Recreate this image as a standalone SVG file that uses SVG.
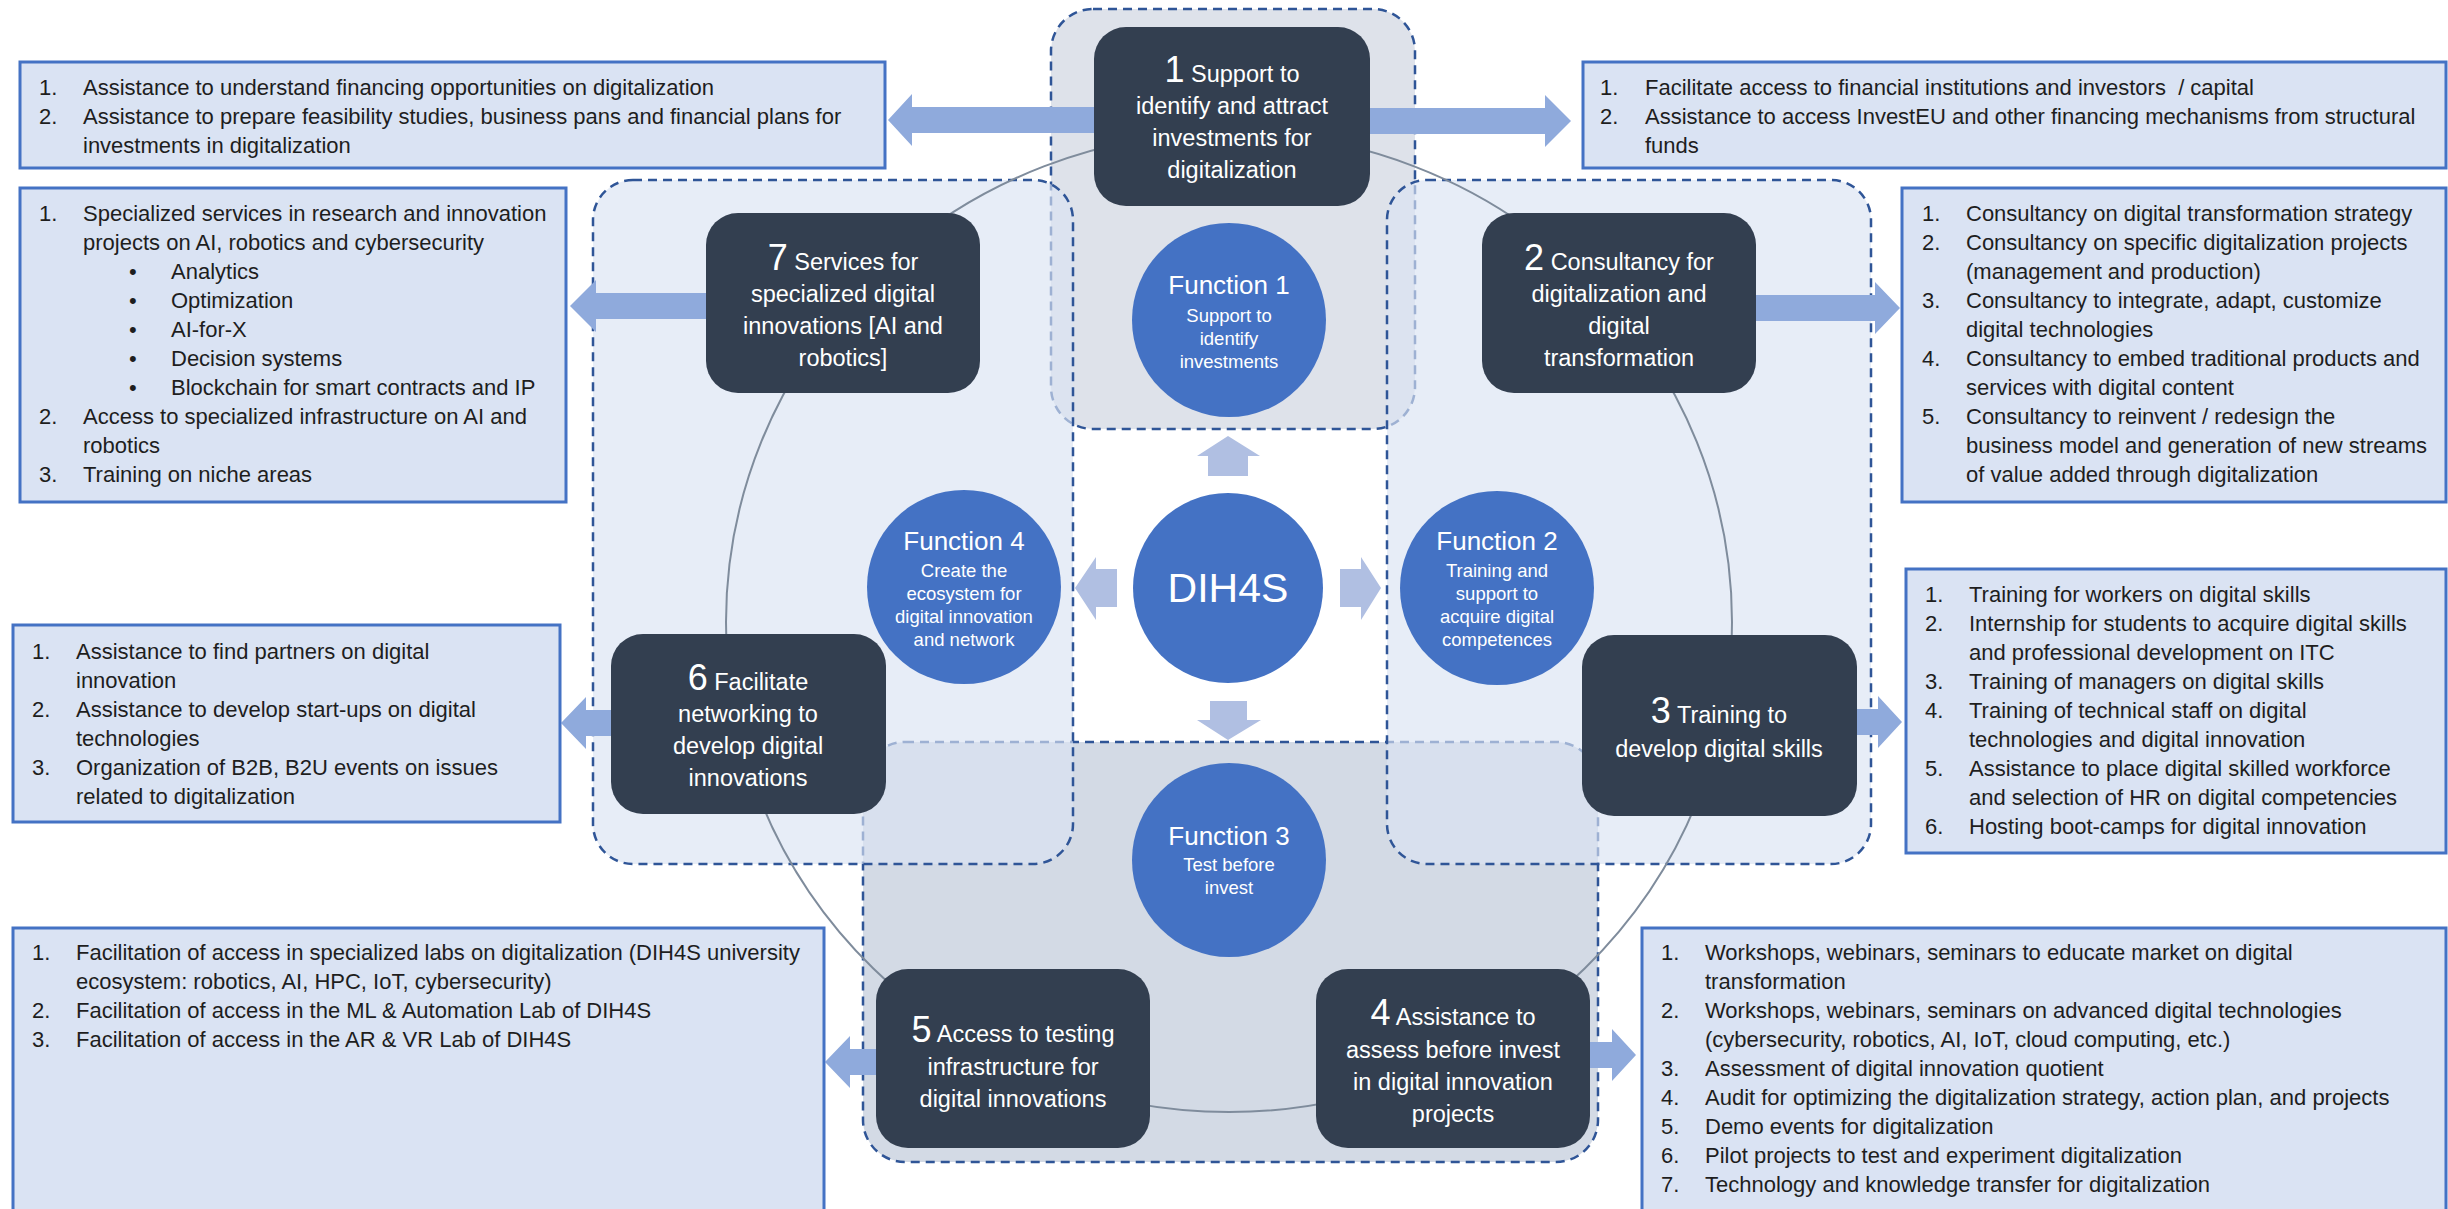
<svg xmlns="http://www.w3.org/2000/svg" width="2448" height="1209" viewBox="0 0 2448 1209">
<style>
.region{stroke:#2F5597;stroke-width:2.5;stroke-dasharray:9 6}
.list{fill:#DAE3F3;stroke:#4472C4;stroke-width:3}
.lt{font-family:"Liberation Sans",Arial,sans-serif;font-size:22px;fill:#1E1E1E}
.nrect{fill:#333F50}
.nt{font-family:"Liberation Sans",Arial,sans-serif;font-size:23.5px;fill:#FFFFFF;text-anchor:middle}
.num{font-size:36px}
.circ{fill:#4472C4}
.ft{font-family:"Liberation Sans",Arial,sans-serif;font-size:26px;fill:#FFFFFF;text-anchor:middle}
.fs{font-size:18.5px}
.big{fill:#8FAADC}
.small{fill:#B0BFE2}
.ring{fill:none;stroke:#7F8C9C;stroke-width:2}
</style>
<rect width="2448" height="1209" fill="#FFFFFF"/>

<g id="regions">
  <rect id="region-f1" class="region" x="1051" y="9" width="364" height="420" rx="42" fill="#DEE2EA"/>
  <rect id="region-f3" class="region" x="863" y="742" width="735" height="420" rx="42" fill="#D3DAE5"/>
  <rect id="region-f4" class="region" x="593" y="180" width="480" height="684" rx="40" fill="#DAE3F3" fill-opacity="0.65"/>
  <rect id="region-f2" class="region" x="1387" y="180" width="484" height="684" rx="40" fill="#DAE3F3" fill-opacity="0.65"/>
</g>

<g id="connectors">
  <ellipse class="ring" cx="1229" cy="622" rx="503" ry="490"/>
  <polygon class="big" points="888,120 912,94 912,107 1100,107 1100,133 912,133 912,146"/>
  <polygon class="big" points="1571,121 1545,95 1545,108 1364,108 1364,134 1545,134 1545,147"/>
  <polygon class="big" points="570,306 596,280 596,293 712,293 712,319 596,319 596,332"/>
  <polygon class="big" points="1900,308 1875,282 1875,295 1750,295 1750,321 1875,321 1875,334"/>
  <polygon class="big" points="561,723 586,697 586,710 618,710 618,736 586,736 586,749"/>
  <polygon class="big" points="1902,722 1878,696 1878,709 1850,709 1850,735 1878,735 1878,748"/>
  <polygon class="big" points="825,1062 850,1036 850,1049 882,1049 882,1075 850,1075 850,1088"/>
  <polygon class="big" points="1636,1055 1612,1029 1612,1042 1584,1042 1584,1068 1612,1068 1612,1081"/>
  <polygon class="small" points="1228,436 1260,456 1248,456 1248,476 1208,476 1208,456 1197,456"/>
  <polygon class="small" points="1228,740 1261,720 1247,720 1247,701 1210,701 1210,720 1197,720"/>
  <polygon class="small" points="1075,588 1096,557 1096,569 1117,569 1117,607 1096,607 1096,620"/>
  <polygon class="small" points="1381,588 1361,557 1361,569 1340,569 1340,607 1361,607 1361,620"/>
</g>

<g id="list-1a">
  <rect class="list" x="20" y="62" width="865" height="106"/>
  <text class="lt"><tspan x="39" y="95">1.</tspan><tspan x="83" y="95">Assistance to understand financing opportunities on digitalization</tspan></text>
  <text class="lt"><tspan x="39" y="124">2.</tspan><tspan x="83" y="124">Assistance to prepare feasibility studies, business pans and financial plans for</tspan><tspan x="83" y="153">investments in digitalization</tspan></text>
</g>

<g id="list-1b">
  <rect class="list" x="1583" y="62" width="863" height="106"/>
  <text class="lt" xml:space="preserve"><tspan x="1600" y="95">1.</tspan><tspan x="1645" y="95">Facilitate access to financial institutions and investors  / capital</tspan></text>
  <text class="lt"><tspan x="1600" y="124">2.</tspan><tspan x="1645" y="124">Assistance to access InvestEU and other financing mechanisms from structural</tspan><tspan x="1645" y="153">funds</tspan></text>
</g>

<g id="list-7">
  <rect class="list" x="20" y="188" width="546" height="314"/>
  <text class="lt"><tspan x="39" y="221">1.</tspan><tspan x="83" y="221">Specialized services in research and innovation</tspan><tspan x="83" y="250">projects on AI, robotics and cybersecurity</tspan></text>
  <text class="lt"><tspan x="129" y="279">•</tspan><tspan x="171" y="279">Analytics</tspan></text>
  <text class="lt"><tspan x="129" y="308">•</tspan><tspan x="171" y="308">Optimization</tspan></text>
  <text class="lt"><tspan x="129" y="337">•</tspan><tspan x="171" y="337">AI-for-X</tspan></text>
  <text class="lt"><tspan x="129" y="366">•</tspan><tspan x="171" y="366">Decision systems</tspan></text>
  <text class="lt"><tspan x="129" y="395">•</tspan><tspan x="171" y="395">Blockchain for smart contracts and IP</tspan></text>
  <text class="lt"><tspan x="39" y="424">2.</tspan><tspan x="83" y="424">Access to specialized infrastructure on AI and</tspan><tspan x="83" y="453">robotics</tspan></text>
  <text class="lt"><tspan x="39" y="482">3.</tspan><tspan x="83" y="482">Training on niche areas</tspan></text>
</g>

<g id="list-2">
  <rect class="list" x="1902" y="188" width="544" height="314"/>
  <text class="lt"><tspan x="1922" y="221">1.</tspan><tspan x="1966" y="221">Consultancy on digital transformation strategy</tspan></text>
  <text class="lt"><tspan x="1922" y="250">2.</tspan><tspan x="1966" y="250">Consultancy on specific digitalization projects</tspan><tspan x="1966" y="279">(management and production)</tspan></text>
  <text class="lt"><tspan x="1922" y="308">3.</tspan><tspan x="1966" y="308">Consultancy to integrate, adapt, customize</tspan><tspan x="1966" y="337">digital technologies</tspan></text>
  <text class="lt"><tspan x="1922" y="366">4.</tspan><tspan x="1966" y="366">Consultancy to embed traditional products and</tspan><tspan x="1966" y="395">services with digital content</tspan></text>
  <text class="lt"><tspan x="1922" y="424">5.</tspan><tspan x="1966" y="424">Consultancy to reinvent / redesign the</tspan><tspan x="1966" y="453">business model and generation of new streams</tspan><tspan x="1966" y="482">of value added through digitalization</tspan></text>
</g>

<g id="list-6">
  <rect class="list" x="13" y="625" width="547" height="197"/>
  <text class="lt"><tspan x="32" y="659">1.</tspan><tspan x="76" y="659">Assistance to find partners on digital</tspan><tspan x="76" y="688">innovation</tspan></text>
  <text class="lt"><tspan x="32" y="717">2.</tspan><tspan x="76" y="717">Assistance to develop start-ups on digital</tspan><tspan x="76" y="746">technologies</tspan></text>
  <text class="lt"><tspan x="32" y="775">3.</tspan><tspan x="76" y="775">Organization of B2B, B2U events on issues</tspan><tspan x="76" y="804">related to digitalization</tspan></text>
</g>

<g id="list-3">
  <rect class="list" x="1906" y="569" width="540" height="284"/>
  <text class="lt"><tspan x="1925" y="602">1.</tspan><tspan x="1969" y="602">Training for workers on digital skills</tspan></text>
  <text class="lt"><tspan x="1925" y="631">2.</tspan><tspan x="1969" y="631">Internship for students to acquire digital skills</tspan><tspan x="1969" y="660">and professional development on ITC</tspan></text>
  <text class="lt"><tspan x="1925" y="689">3.</tspan><tspan x="1969" y="689">Training of managers on digital skills</tspan></text>
  <text class="lt"><tspan x="1925" y="718">4.</tspan><tspan x="1969" y="718">Training of technical staff on digital</tspan><tspan x="1969" y="747">technologies and digital innovation</tspan></text>
  <text class="lt"><tspan x="1925" y="776">5.</tspan><tspan x="1969" y="776">Assistance to place digital skilled workforce</tspan><tspan x="1969" y="805">and selection of HR on digital competencies</tspan></text>
  <text class="lt"><tspan x="1925" y="834">6.</tspan><tspan x="1969" y="834">Hosting boot-camps for digital innovation</tspan></text>
</g>

<g id="list-5">
  <rect class="list" x="13" y="928" width="811" height="290"/>
  <text class="lt"><tspan x="32" y="960">1.</tspan><tspan x="76" y="960">Facilitation of access in specialized labs on digitalization (DIH4S university</tspan><tspan x="76" y="989">ecosystem: robotics, AI, HPC, IoT, cybersecurity)</tspan></text>
  <text class="lt"><tspan x="32" y="1018">2.</tspan><tspan x="76" y="1018">Facilitation of access in the ML &amp; Automation Lab of DIH4S</tspan></text>
  <text class="lt"><tspan x="32" y="1047">3.</tspan><tspan x="76" y="1047">Facilitation of access in the AR &amp; VR Lab of DIH4S</tspan></text>
</g>

<g id="list-4">
  <rect class="list" x="1642" y="928" width="804" height="290"/>
  <text class="lt"><tspan x="1661" y="960">1.</tspan><tspan x="1705" y="960">Workshops, webinars, seminars to educate market on digital</tspan><tspan x="1705" y="989">transformation</tspan></text>
  <text class="lt"><tspan x="1661" y="1018">2.</tspan><tspan x="1705" y="1018">Workshops, webinars, seminars on advanced digital technologies</tspan><tspan x="1705" y="1047">(cybersecurity, robotics, AI, IoT, cloud computing, etc.)</tspan></text>
  <text class="lt"><tspan x="1661" y="1076">3.</tspan><tspan x="1705" y="1076">Assessment of digital innovation quotient</tspan></text>
  <text class="lt"><tspan x="1661" y="1105">4.</tspan><tspan x="1705" y="1105">Audit for optimizing the digitalization strategy, action plan, and projects</tspan></text>
  <text class="lt"><tspan x="1661" y="1134">5.</tspan><tspan x="1705" y="1134">Demo events for digitalization</tspan></text>
  <text class="lt"><tspan x="1661" y="1163">6.</tspan><tspan x="1705" y="1163">Pilot projects to test and experiment digitalization</tspan></text>
  <text class="lt"><tspan x="1661" y="1192">7.</tspan><tspan x="1705" y="1192">Technology and knowledge transfer for digitalization</tspan></text>
</g>

<g id="node-1">
  <rect class="nrect" x="1094" y="27" width="276" height="179" rx="32"/>
  <text class="nt"><tspan x="1232" y="82"><tspan class="num">1</tspan> Support to</tspan><tspan x="1232" y="114">identify and attract</tspan><tspan x="1232" y="146">investments for</tspan><tspan x="1232" y="178">digitalization</tspan></text>
</g>
<g id="node-7">
  <rect class="nrect" x="706" y="213" width="274" height="180" rx="32"/>
  <text class="nt"><tspan x="843" y="270"><tspan class="num">7</tspan> Services for</tspan><tspan x="843" y="302">specialized digital</tspan><tspan x="843" y="334">innovations [AI and</tspan><tspan x="843" y="366">robotics]</tspan></text>
</g>
<g id="node-2">
  <rect class="nrect" x="1482" y="213" width="274" height="180" rx="32"/>
  <text class="nt"><tspan x="1619" y="270"><tspan class="num">2</tspan> Consultancy for</tspan><tspan x="1619" y="302">digitalization and</tspan><tspan x="1619" y="334">digital</tspan><tspan x="1619" y="366">transformation</tspan></text>
</g>
<g id="node-6">
  <rect class="nrect" x="611" y="634" width="275" height="180" rx="32"/>
  <text class="nt"><tspan x="748" y="690"><tspan class="num">6</tspan> Facilitate</tspan><tspan x="748" y="722">networking to</tspan><tspan x="748" y="754">develop digital</tspan><tspan x="748" y="786">innovations</tspan></text>
</g>
<g id="node-3">
  <rect class="nrect" x="1582" y="635" width="275" height="181" rx="32"/>
  <text class="nt"><tspan x="1719" y="723"><tspan class="num">3</tspan> Training to</tspan><tspan x="1719" y="757">develop digital skills</tspan></text>
</g>
<g id="node-5">
  <rect class="nrect" x="876" y="969" width="274" height="179" rx="32"/>
  <text class="nt"><tspan x="1013" y="1042"><tspan class="num">5</tspan> Access to testing</tspan><tspan x="1013" y="1075">infrastructure for</tspan><tspan x="1013" y="1107">digital innovations</tspan></text>
</g>
<g id="node-4">
  <rect class="nrect" x="1316" y="969" width="274" height="179" rx="32"/>
  <text class="nt"><tspan x="1453" y="1025"><tspan class="num">4</tspan> Assistance to</tspan><tspan x="1453" y="1058">assess before invest</tspan><tspan x="1453" y="1090">in digital innovation</tspan><tspan x="1453" y="1122">projects</tspan></text>
</g>

<g id="function-1">
  <circle class="circ" cx="1229" cy="320" r="97"/>
  <text class="ft"><tspan x="1229" y="294">Function 1</tspan><tspan class="fs" x="1229" y="322">Support to</tspan><tspan class="fs" x="1229" y="345">identify</tspan><tspan class="fs" x="1229" y="368">investments</tspan></text>
</g>
<g id="function-4">
  <circle class="circ" cx="964" cy="587" r="97"/>
  <text class="ft"><tspan x="964" y="550">Function 4</tspan><tspan class="fs" x="964" y="577">Create the</tspan><tspan class="fs" x="964" y="600">ecosystem for</tspan><tspan class="fs" x="964" y="623">digital innovation</tspan><tspan class="fs" x="964" y="646">and network</tspan></text>
</g>
<g id="function-2">
  <circle class="circ" cx="1497" cy="588" r="97"/>
  <text class="ft"><tspan x="1497" y="550">Function 2</tspan><tspan class="fs" x="1497" y="577">Training and</tspan><tspan class="fs" x="1497" y="600">support to</tspan><tspan class="fs" x="1497" y="623">acquire digital</tspan><tspan class="fs" x="1497" y="646">competences</tspan></text>
</g>
<g id="function-3">
  <circle class="circ" cx="1229" cy="860" r="97"/>
  <text class="ft"><tspan x="1229" y="845">Function 3</tspan><tspan class="fs" x="1229" y="871">Test before</tspan><tspan class="fs" x="1229" y="894">invest</tspan></text>
</g>
<g id="dih4s">
  <circle class="circ" cx="1228" cy="588" r="95"/>
  <text class="ft" x="1228" y="602" style="font-size:41px">DIH4S</text>
</g>
</svg>
